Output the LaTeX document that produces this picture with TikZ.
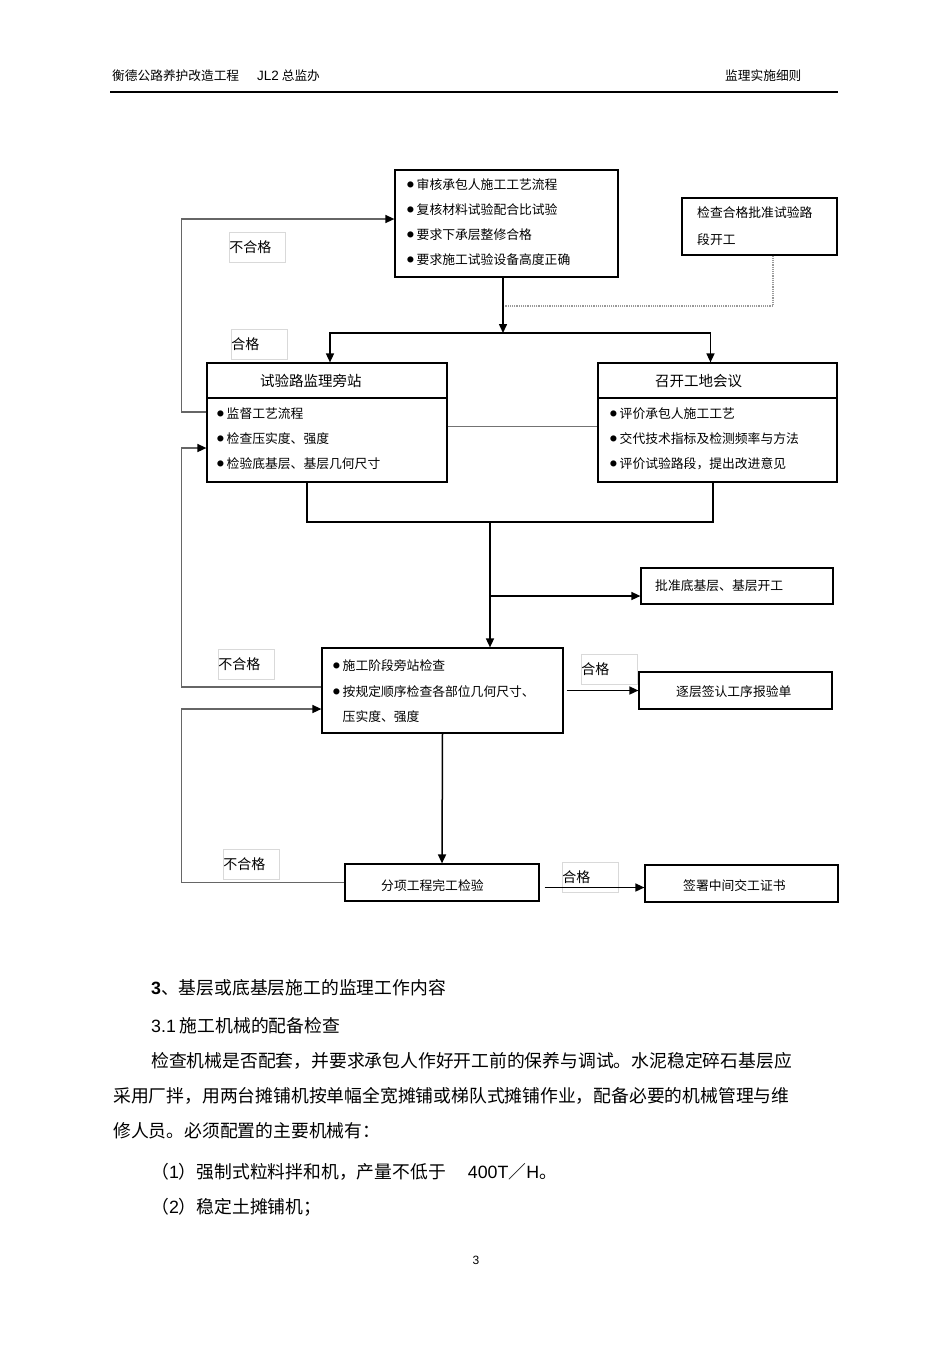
\documentclass[tikz,border=0pt]{standalone}
\usepackage{fontspec}
\setmainfont{Noto Sans CJK SC}
\newfontfamily\lat{Liberation Sans}
\usetikzlibrary{arrows.meta}
\usetikzlibrary{calc}
\usetikzlibrary{positioning}

\newcommand{\dotmark}{\makebox[9.5pt][l]{\raisebox{2.4pt}{\fontsize{6.8}{6.8}\selectfont ●}}}

\tikzset{
  box/.style={draw, line width=1.2pt, inner sep=0pt},
  tagbox/.style={draw=black!15, line width=0.6pt, inner sep=0pt, anchor=north west,
    text width=56pt, minimum height=30pt, align=left, font=\fontsize{14}{14}\selectfont},
  item/.style={anchor=west, inner sep=0pt, font=\fontsize{12.8}{12.8}\selectfont},
  head/.style={anchor=west, inner sep=0pt, font=\fontsize{14.5}{14.5}\selectfont},
  body/.style={anchor=west, inner sep=0pt, font=\fontsize{17.8}{17.8}\selectfont},
  flow/.style={->, line width=1.5pt},
  back/.style={->, draw=black!60, line width=1.4pt},
  link/.style={draw=black!55, line width=0.9pt},
  dotline/.style={draw=black!40, line width=1.2pt, densely dotted}
}

\begin{document}
\begin{tikzpicture}[x=1pt, y=-1pt, >={Triangle[length=9pt,width=8pt,color=black]}]
  \fill[white] (0,0) rectangle (950,1345);
  \useasboundingbox (0,0) rectangle (950,1345);

  % page header
  \node[item, font=\fontsize{12.7}{12.7}\selectfont] (hdleft) at (112,76) {衡德公路养护改造工程};
  \node[item, font=\fontsize{12.7}{12.7}\selectfont] (hdoffice) at (257,76) {{\lat\fontsize{13.5}{13.5}\selectfont JL2} 总监办};
  \node[item, font=\fontsize{12.7}{12.7}\selectfont] (hdright) at (725,76) {监理实施细则};
  \draw[line width=1.2pt] (110,92) -- (838,92);

  % boxes
  \node[box, minimum width=223pt, minimum height=107pt] (review) at (506.5,223.5) {};
  \node[box, minimum width=155pt, minimum height=57pt] (approve) at (759.5,226.5) {};
  \node[box, minimum width=240pt, minimum height=35pt] (trialhead) at (327,380.5) {};
  \node[box, minimum width=240pt, minimum height=84pt] (trialbody) at (327,440) {};
  \node[box, minimum width=239pt, minimum height=35pt] (meethead) at (717.5,380.5) {};
  \node[box, minimum width=239pt, minimum height=84pt] (meetbody) at (717.5,440) {};
  \node[box, minimum width=192pt, minimum height=36pt] (startbase) at (737,586) {};
  \node[box, minimum width=241pt, minimum height=85pt] (stage) at (442.5,690.5) {};
  \node[box, minimum width=193pt, minimum height=37pt] (layer) at (735.5,690.5) {};
  \node[box, minimum width=194pt, minimum height=37pt] (final) at (442,882.5) {};
  \node[box, minimum width=193pt, minimum height=37pt] (cert) at (741.5,883.5) {};

  % box texts
  \foreach \t [count=\i] in {审核承包人施工工艺流程, 复核材料试验配合比试验, 要求下承层整修合格, 要求施工试验设备高度正确}
    \node[item] (rv\i) at (407,160+25*\i) {\dotmark\t};
  \node[item] (ap1) at (697,213) {检查合格批准试验路};
  \node[item] (ap2) at (697,240) {段开工};
  \node[head] (trialtitle) at (260,381) {试验路监理旁站};
  \node[head] (meettitle) at (655,381) {召开工地会议};
  \foreach \t [count=\i] in {监督工艺流程, 检查压实度、强度, 检验底基层、基层几何尺寸}
    \node[item] (tr\i) at (217,389+25*\i) {\dotmark\t};
  \foreach \t [count=\i] in {评价承包人施工工艺, 交代技术指标及检测频率与方法, 评价试验路段，提出改进意见}
    \node[item] (mt\i) at (610,389+25*\i) {\dotmark\t};
  \node[item] (sbtext) at (655,586) {批准底基层、基层开工};
  \node[item] (st1) at (333,666) {\dotmark 施工阶段旁站检查};
  \node[item] (st2) at (333,692) {\dotmark 按规定顺序检查各部位几何尺寸、};
  \node[item] (st3) at (342.5,717) {压实度、强度};
  \node[item] (lytext) at (676,692) {逐层签认工序报验单};
  \node[item] (fntext) at (381,886) {分项工程完工检验};
  \node[item] (cttext) at (683,886) {签署中间交工证书};

  % verdict tags
  \node[tagbox] (fail1) at (229,232) {不合格};
  \node[tagbox] (pass1) at (231,329) {合格};
  \node[tagbox] (fail2) at (218,649) {不合格};
  \node[tagbox] (pass2) at (581,654) {合格};
  \node[tagbox] (fail3) at (223,849) {不合格};
  \node[tagbox] (pass3) at (562,862) {合格};

  % connectors
  \coordinate (split) at (503,333);
  \coordinate (dotknee) at (773,306);
  \coordinate (merge) at (490,522);
  \coordinate (fork) at (490,596);
  \coordinate (passlow) at ($(final.east)+(5,5)$);

  \draw[dotline] (approve.south -| dotknee) -- (dotknee) -- (split |- dotknee);
  \draw[flow] (review.south -| split) -- (split);
  \draw[flow] (split) -| ($(trialhead.north)+(3,0)$);
  \draw[flow] (split) -| ($(meethead.north)+(-7,0)$);
  \draw[link] ($(trialbody.east)+(0,-14)$) -- ($(meetbody.west)+(0,-14)$);
  \draw[line width=1.5pt] ($(trialbody.south)+(-20,0)$) |- (merge) -| ($(meetbody.south)+(-4.5,0)$);
  \draw[flow] (merge) -- (stage.north -| merge);
  \draw[flow] (fork) -- (startbase.west |- fork);
  \draw[flow] ($(stage.east)+(3,0)$) -- (layer.west);
  \draw[flow] (stage.south) -- (final.north);
  \draw[flow] (passlow) -- (cert.west |- passlow);

  \draw[back] ($(trialbody.west)+(0,-28)$) -- ++(-25,0) |- ($(review.west)+(0,-4.5)$);
  \draw[back] ($(stage.west)+(0,-3.5)$) -- ++(-140,0) |- ($(trialbody.west)+(0,8)$);
  \draw[back] (final.west) -- ++(-163,0) |- ($(stage.west)+(0,18.5)$);

  % text below the chart
  \node[body] (sec) at (151,988) {{\lat\bfseries 3}、基层或底基层施工的监理工作内容};
  \node[body] (sub) at (151,1026) {{\lat 3.1} 施工机械的配备检查};
  \node[body] (para1) at (151,1061) {检查机械是否配套，并要求承包人作好开工前的保养与调试。水泥稳定碎石基层应};
  \node[body] (para2) at (113,1096) {采用厂拌，用两台摊铺机按单幅全宽摊铺或梯队式摊铺作业，配备必要的机械管理与维};
  \node[body] (para3) at (113,1131) {修人员。必须配置的主要机械有：};
  \node[body] (mach1) at (151,1172) {（{\lat 1}）强制式粒料拌和机，产量不低于\hspace{22pt}{\lat 400T}／{\lat H}。};
  \node[body] (mach2) at (151,1207) {（{\lat 2}）稳定土摊铺机；};
  \node[inner sep=0pt, font=\fontsize{12}{12}\lat] (pageno) at (476,1260) {3};
\end{tikzpicture}
\end{document}
